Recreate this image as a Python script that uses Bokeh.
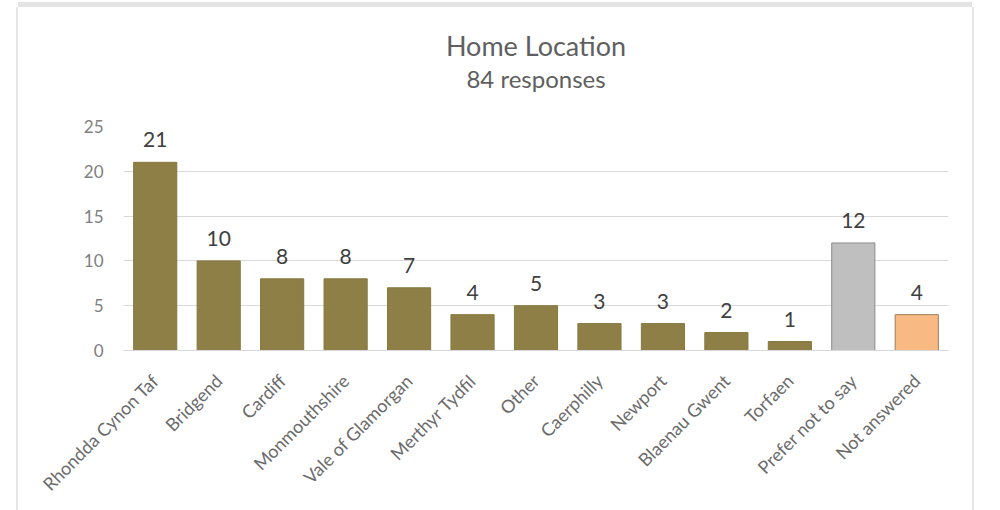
from bokeh.plotting import figure
from bokeh.models import ColumnDataSource, Range1d, FactorRange, LabelSet, Title, FixedTicker
from bokeh.core.properties import value
from bokeh.embed import file_html
from bokeh.resources import INLINE
import math

# ---- data ----
categories = ["Rhondda Cynon Taf", "Bridgend", "Cardiff", "Monmouthshire",
              "Vale of Glamorgan", "Merthyr Tydfil", "Other", "Caerphilly",
              "Newport", "Blaenau Gwent", "Torfaen", "Prefer not to say",
              "Not answered"]
counts = [21, 10, 8, 8, 7, 4, 5, 3, 3, 2, 1, 12, 4]
y_ticks = [0, 5, 10, 15, 20, 25]
title_text = "Home Location"
subtitle_text = "84 responses"

# ---- styles ----
OLIVE = "#8D7F45"
special_fill = {"Prefer not to say": "#BFBFBF", "Not answered": "#F9B983"}
special_line = {"Prefer not to say": "#8A8A8A", "Not answered": "#A27C5C"}
fills = [special_fill.get(c, OLIVE) for c in categories]
lines = [special_line.get(c, "#857841") for c in categories]
FONT = "Lato"

src = ColumnDataSource(dict(cat=categories, val=counts, fill=fills, line=lines,
                            lab=[str(v) for v in counts]))

# card: left border at x=16, right border at x~972, top band at y~2..7
OFF_L = 18
OFF_T = 7
W = 954
H = 503

p = figure(width=W, height=H, output_backend="svg", toolbar_location=None,
           x_range=FactorRange(*categories, range_padding=0),
           y_range=Range1d(0, 25), title_location=None,
           min_border_left=123 - OFF_L, min_border_right=(OFF_L + W) - 948,
           min_border_top=126 - OFF_T, min_border_bottom=(OFF_T + H) - 350)
p.margin = (OFF_T, 0, 0, OFF_L)
p.styles = {"box-shadow": "-2px 0px 0px 0px #E6E6E6, 2px 0px 0px 0px #E6E6E6, 0px -5px 0px 0px #E4E4E4"}
p.outline_line_color = None
p.background_fill_color = "white"
p.border_fill_color = "white"

p.vbar(x="cat", top="val", width=0.68, source=src, fill_color="fill",
       line_color="line", line_width=1)

p.add_layout(LabelSet(x="cat", y="val", text="lab", source=src, y_offset=15,
                      text_align="center", text_baseline="alphabetic",
                      text_font=value(FONT), text_font_size=value("21px"),
                      text_color=value("#404040")))

# axes
p.yaxis.ticker = FixedTicker(ticks=y_ticks)
p.yaxis.axis_line_color = None
p.yaxis.major_tick_line_color = None
p.yaxis.minor_tick_line_color = None
p.yaxis.major_tick_out = 0
p.yaxis.major_label_standoff = 20
p.yaxis.major_label_text_font = FONT
p.yaxis.major_label_text_font_size = "17px"
p.yaxis.major_label_text_color = "#808080"

p.xaxis.axis_line_color = "#D9D9D9"
p.xaxis.major_tick_line_color = None
p.xaxis.major_tick_out = 0
p.xaxis.major_label_orientation = math.pi / 4
p.xaxis.major_label_standoff = 27
p.xaxis.major_label_text_font = FONT
p.xaxis.major_label_text_font_size = "18px"
p.xaxis.major_label_text_color = "#6B6B6B"

p.xgrid.grid_line_color = None
p.ygrid.grid_line_color = "#D9D9D9"
p.ygrid.grid_line_width = 1

# titles (a blank spacer panel keeps the two title lines above the plot area)
p.add_layout(Title(text=" ", text_font=FONT, text_font_size="24px",
                   standoff=3), "above")
p.add_layout(Title(text=subtitle_text, align="center",
                   text_font=FONT, text_font_size="24px", text_font_style="normal",
                   text_color="#5F5F5F", standoff=0), "above")
p.add_layout(Title(text=title_text, align="center",
                   text_font=FONT, text_font_size="27px", text_font_style="normal",
                   text_color="#5F5F5F", standoff=0), "above")

open("out.html", "w").write(file_html(p, INLINE))
